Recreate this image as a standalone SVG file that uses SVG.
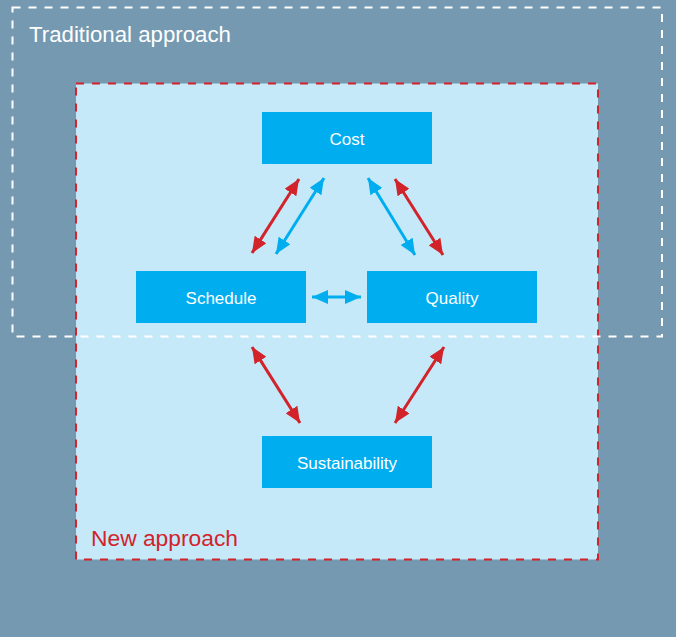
<svg xmlns="http://www.w3.org/2000/svg" width="676" height="637" viewBox="0 0 676 637">
<style>
.box{fill:#00AEEF}
.lbl{font-family:"Liberation Sans","DejaVu Sans",sans-serif;font-size:17px;fill:#fff;text-anchor:middle}
.red{stroke:#D2232A;stroke-width:3;fill:none}
.blue{stroke:#00AEEF;stroke-width:3;fill:none}
</style>
<defs>
<marker id="ar" viewBox="0 0 16 14" refX="16" refY="7" markerWidth="16" markerHeight="14" markerUnits="userSpaceOnUse" orient="auto-start-reverse"><path d="M0,0 L16,7 L0,14 z" fill="#D2232A"/></marker>
<marker id="ab" viewBox="0 0 16 14" refX="16" refY="7" markerWidth="16" markerHeight="14" markerUnits="userSpaceOnUse" orient="auto-start-reverse"><path d="M0,0 L16,7 L0,14 z" fill="#00AEEF"/></marker>
</defs>
<rect x="0" y="0" width="676" height="637" fill="#7599B1"/>
<g id="new-approach">
<rect x="76" y="83.5" width="522" height="476" fill="#C6E9F9" stroke="#D2232A" stroke-width="2" stroke-dasharray="8,8"/>
<text x="91" y="546" font-family="Liberation Sans, DejaVu Sans, sans-serif" font-size="22" fill="#D2232A" textLength="147" lengthAdjust="spacingAndGlyphs">New approach</text>
</g>
<g id="traditional-approach">
<rect x="12.5" y="7.5" width="649.5" height="329" fill="none" stroke="#fff" stroke-width="2" stroke-dasharray="8,8"/>
<text x="29" y="42" font-family="Liberation Sans, DejaVu Sans, sans-serif" font-size="22" fill="#fff" textLength="202" lengthAdjust="spacingAndGlyphs">Traditional approach</text>
</g>
<g id="connectors">
<line class="red" x1="299" y1="179" x2="252" y2="253" marker-start="url(#ar)" marker-end="url(#ar)"/>
<line class="blue" x1="324" y1="178" x2="276" y2="254" marker-start="url(#ab)" marker-end="url(#ab)"/>
<line class="blue" x1="368" y1="178" x2="415" y2="255" marker-start="url(#ab)" marker-end="url(#ab)"/>
<line class="red" x1="395" y1="179" x2="443" y2="255" marker-start="url(#ar)" marker-end="url(#ar)"/>
<line class="blue" x1="312" y1="297" x2="361" y2="297" marker-start="url(#ab)" marker-end="url(#ab)"/>
<line class="red" x1="252" y1="347" x2="300" y2="423" marker-start="url(#ar)" marker-end="url(#ar)"/>
<line class="red" x1="444" y1="347" x2="395" y2="423" marker-start="url(#ar)" marker-end="url(#ar)"/>
</g>
<g id="cost"><rect class="box" x="262" y="112" width="170" height="52"/><text class="lbl" x="347" y="145">Cost</text></g>
<g id="schedule"><rect class="box" x="136" y="271" width="170" height="52"/><text class="lbl" x="221" y="304">Schedule</text></g>
<g id="quality"><rect class="box" x="367" y="271" width="170" height="52"/><text class="lbl" x="452" y="304">Quality</text></g>
<g id="sustainability"><rect class="box" x="262" y="436" width="170" height="52"/><text class="lbl" x="347" y="469">Sustainability</text></g>
</svg>
